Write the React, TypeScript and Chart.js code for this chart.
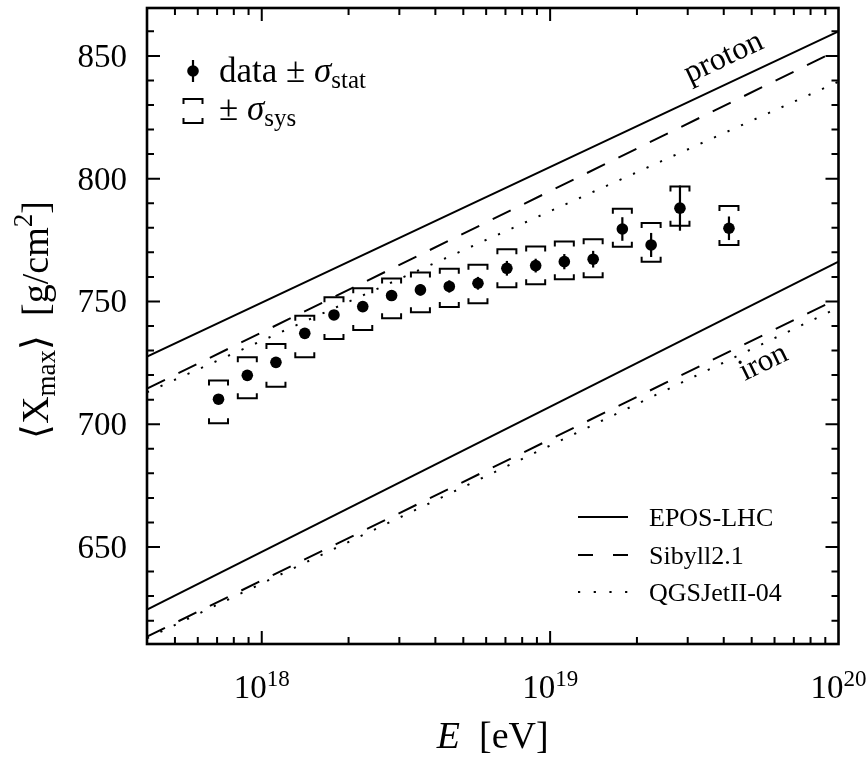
import React, { useEffect, useRef } from "react";
import { Chart, registerables } from "chart.js";

Chart.register(...registerables);

// ---- data ----
const energies = [7.08e17, 8.91e17, 1.12e18, 1.41e18, 1.78e18, 2.24e18, 2.82e18, 3.55e18, 4.47e18, 5.62e18, 7.08e18, 8.91e18, 1.12e19, 1.41e19, 1.78e19, 2.24e19, 2.82e19, 4.17e19];
const xmaxMean = [710.2, 719.9, 725.2, 737.0, 744.5, 747.9, 752.4, 754.7, 756.1, 757.4, 763.5, 764.6, 766.2, 767.2, 779.5, 773.0, 788.0, 779.8];
const statErr = [1.5, 1.6, 1.7, 1.9, 2.0, 2.1, 2.2, 2.3, 2.5, 2.6, 3.0, 2.8, 3.1, 3.4, 4.8, 4.9, 9.2, 4.8];
const sysUp = [7.6, 7.4, 7.5, 7.2, 7.2, 7.5, 6.9, 7.1, 7.2, 7.5, 7.8, 7.8, 8.2, 8.1, 8.2, 8.9, 8.8, 9.1];
const sysLow = [9.8, 9.3, 9.9, 9.7, 9.8, 9.5, 9.2, 9.1, 8.4, 8.1, 7.7, 7.6, 7.2, 7.3, 7.2, 6.8, 7.2, 6.8];

const modelEnergies = [4e17, 1e20];
const eposProton = [727.5, 860.0];
const sibyllProton = [714.5, 852.5];
const qgsProton = [713.0, 839.5];
const eposIron = [624.5, 766.2];
const sibyllIron = [613.5, 751.3];
const qgsIron = [612.8, 747.5];

const xMajorTicks = [1e18, 1e19, 1e20];
const xMajorExponents = ["18", "19", "20"];
const yMajorTicks = [650, 700, 750, 800, 850];
const yTickLabels = ["650", "700", "750", "800", "850"];

const modelNames = ["EPOS-LHC", "Sibyll2.1", "QGSJetII-04"];

const X_MIN = 4e17;
const X_MAX = 1e20;
const Y_MIN = 610.5;
const Y_MAX = 869.5;

const FONT = "'Liberation Serif', 'Times New Roman', serif";
const SOLID: number[] = [];
const DASH = [20, 15];
const DOT = [2.2, 12.6];

type Run = { t: string; size: number; dy?: number; italic?: boolean };

function setFont(ctx: CanvasRenderingContext2D, r: Run) {
  ctx.font = `${r.italic ? "italic " : ""}${r.size}px ${FONT}`;
}
function runsWidth(ctx: CanvasRenderingContext2D, runs: Run[]) {
  let w = 0;
  for (const r of runs) {
    setFont(ctx, r);
    w += ctx.measureText(r.t).width;
  }
  return w;
}
function drawRuns(ctx: CanvasRenderingContext2D, runs: Run[], x: number, y: number, align: "left" | "center" | "right") {
  const w = runsWidth(ctx, runs);
  let cx = align === "left" ? x : align === "center" ? x - w / 2 : x - w;
  ctx.textAlign = "left";
  ctx.textBaseline = "alphabetic";
  for (const r of runs) {
    setFont(ctx, r);
    ctx.fillText(r.t, cx, y + (r.dy || 0));
    cx += ctx.measureText(r.t).width;
  }
}

function bracket(ctx: CanvasRenderingContext2D, x: number, y: number, half: number, leg: number) {
  ctx.beginPath();
  ctx.moveTo(x - half, y + leg);
  ctx.lineTo(x - half, y);
  ctx.lineTo(x + half, y);
  ctx.lineTo(x + half, y + leg);
  ctx.stroke();
}

const overlay = {
  id: "overlay",
  afterDatasetsDraw(chart: any) {
    const ctx: CanvasRenderingContext2D = chart.ctx;
    const xs = chart.scales.x;
    const ys = chart.scales.y;
    ctx.save();
    ctx.strokeStyle = "#000";
    ctx.lineCap = "butt";
    // systematic brackets
    ctx.lineWidth = 2;
    energies.forEach((e, i) => {
      const px = xs.getPixelForValue(e);
      const top = ys.getPixelForValue(xmaxMean[i] + sysUp[i]);
      const bot = ys.getPixelForValue(xmaxMean[i] - sysLow[i]);
      bracket(ctx, px, top, 9.5, 5);
      bracket(ctx, px, bot, 9.5, -5);
    });
    // statistical error bars
    ctx.lineWidth = 2.2;
    energies.forEach((e, i) => {
      const px = xs.getPixelForValue(e);
      ctx.beginPath();
      ctx.moveTo(px, ys.getPixelForValue(xmaxMean[i] + statErr[i]));
      ctx.lineTo(px, ys.getPixelForValue(xmaxMean[i] - statErr[i]));
      ctx.stroke();
    });
    ctx.restore();
  },
  afterDraw(chart: any) {
    const ctx: CanvasRenderingContext2D = chart.ctx;
    const xs = chart.scales.x;
    const ys = chart.scales.y;
    const a = chart.chartArea;
    ctx.save();
    ctx.fillStyle = "#000";
    ctx.strokeStyle = "#000";

    // ticks (inward, all four sides)
    ctx.lineWidth = 2;
    const vtick = (px: number, len: number) => {
      ctx.beginPath();
      ctx.moveTo(px, a.bottom);
      ctx.lineTo(px, a.bottom - len);
      ctx.moveTo(px, a.top);
      ctx.lineTo(px, a.top + len);
      ctx.stroke();
    };
    const htick = (py: number, len: number) => {
      ctx.beginPath();
      ctx.moveTo(a.left, py);
      ctx.lineTo(a.left + len, py);
      ctx.moveTo(a.right, py);
      ctx.lineTo(a.right - len, py);
      ctx.stroke();
    };
    for (let d = 17; d <= 19; d++) {
      for (let m = 1; m <= 9; m++) {
        const v = m * Math.pow(10, d);
        if (v < X_MIN || v > X_MAX) continue;
        vtick(xs.getPixelForValue(v), m === 1 ? 13 : 7);
      }
    }
    for (let v = 620; v <= 860; v += 10) {
      htick(ys.getPixelForValue(v), v % 50 === 0 ? 13 : 7);
    }

    // frame
    ctx.lineWidth = 2.6;
    ctx.strokeRect(a.left, a.top, a.right - a.left, a.bottom - a.top);

    // y tick labels
    yMajorTicks.forEach((v, i) => {
      drawRuns(ctx, [{ t: yTickLabels[i], size: 33 }], 127, ys.getPixelForValue(v) + 11, "right");
    });
    // x tick labels
    xMajorTicks.forEach((v, i) => {
      drawRuns(ctx, [{ t: "10", size: 33 }, { t: xMajorExponents[i], size: 23, dy: -12 }], xs.getPixelForValue(v), 698, "center");
    });

    // axis titles
    drawRuns(ctx, [{ t: "E", size: 38, italic: true }, { t: "  [eV]", size: 38 }], (a.left + a.right) / 2, 748, "center");
    ctx.save();
    ctx.translate(48, (a.top + a.bottom) / 2 - 6);
    ctx.rotate(-Math.PI / 2);
    drawRuns(
      ctx,
      [
        { t: "\u27E8X", size: 38 },
        { t: "max", size: 27, dy: 7 },
        { t: "\u27E9  [g/cm", size: 38 },
        { t: "2", size: 27, dy: -16 },
        { t: "]", size: 38 },
      ],
      0,
      0,
      "center"
    );
    ctx.restore();

    // proton / iron labels, rotated along lines
    const angleOf = (vals: number[]) => {
      const x0 = xs.getPixelForValue(modelEnergies[0]);
      const x1 = xs.getPixelForValue(modelEnergies[1]);
      const y0 = ys.getPixelForValue(vals[0]);
      const y1 = ys.getPixelForValue(vals[1]);
      return Math.atan2(y1 - y0, x1 - x0);
    };
    const rotLabel = (txt: string, e: number, v: number, ang: number, size: number) => {
      ctx.save();
      ctx.translate(xs.getPixelForValue(e), ys.getPixelForValue(v));
      ctx.rotate(ang);
      ctx.font = `${size}px ${FONT}`;
      ctx.textAlign = "center";
      ctx.textBaseline = "middle";
      ctx.fillText(txt, 0, 0);
      ctx.restore();
    };
    rotLabel("proton", 4.0e19, 849.2, angleOf(eposProton), 32);
    rotLabel("iron", 5.5e19, 725, angleOf(sibyllIron), 31);

    // top-left legend
    ctx.lineWidth = 2.2;
    ctx.beginPath();
    ctx.moveTo(193, 60);
    ctx.lineTo(193, 82);
    ctx.stroke();
    ctx.beginPath();
    ctx.arc(193, 71, 5.8, 0, Math.PI * 2);
    ctx.fill();
    drawRuns(
      ctx,
      [
        { t: "data \u00B1 ", size: 35 },
        { t: "\u03C3", size: 35, italic: true },
        { t: "stat", size: 25, dy: 6 },
      ],
      219,
      82,
      "left"
    );
    ctx.lineWidth = 2;
    bracket(ctx, 193, 99, 9.5, 5);
    bracket(ctx, 193, 123, 9.5, -5);
    drawRuns(
      ctx,
      [
        { t: "\u00B1 ", size: 35 },
        { t: "\u03C3", size: 35, italic: true },
        { t: "sys", size: 25, dy: 6 },
      ],
      219,
      120,
      "left"
    );

    // bottom-right legend
    const rows = [517, 555, 592];
    const dashes = [SOLID, [15, 20], [2.2, 13.5]];
    rows.forEach((ry, i) => {
      ctx.save();
      ctx.lineWidth = 2;
      ctx.setLineDash(dashes[i]);
      ctx.beginPath();
      ctx.moveTo(578, ry);
      ctx.lineTo(628, ry);
      ctx.stroke();
      ctx.restore();
      drawRuns(ctx, [{ t: modelNames[i], size: 26 }], 649, ry + 8.5, "left");
    });

    ctx.restore();
  },
};

function line(label: string, vals: number[], dash: number[]) {
  return {
    type: "line" as const,
    label,
    data: modelEnergies.map((e, i) => ({ x: e, y: vals[i] })),
    borderColor: "#000",
    borderWidth: 2,
    borderDash: dash,
    pointRadius: 0,
    showLine: true,
    fill: false,
    tension: 0,
  };
}

export default function App() {
  const ref = useRef<HTMLCanvasElement | null>(null);
  useEffect(() => {
    document.body.style.margin = "0";
    document.body.style.overflow = "hidden";
    const canvas = ref.current!;
    const chart = new Chart(canvas, {
      type: "scatter",
      data: {
        datasets: [
          line("EPOS-LHC p", eposProton, SOLID),
          line("Sibyll2.1 p", sibyllProton, DASH),
          line("QGSJetII-04 p", qgsProton, DOT),
          line("EPOS-LHC Fe", eposIron, SOLID),
          line("Sibyll2.1 Fe", sibyllIron, DASH),
          line("QGSJetII-04 Fe", qgsIron, DOT),
          {
            type: "scatter" as const,
            label: "data",
            data: energies.map((e, i) => ({ x: e, y: xmaxMean[i] })),
            backgroundColor: "#000",
            borderColor: "#000",
            pointRadius: 5.8,
            pointBorderWidth: 0,
          },
        ] as any,
      },
      options: {
        responsive: false,
        animation: false,
        devicePixelRatio: 1,
        layout: { padding: { top: 8, right: 29.5, bottom: 0, left: 0 } },
        plugins: { legend: { display: false }, tooltip: { enabled: false } },
        scales: {
          x: {
            type: "logarithmic",
            min: X_MIN,
            max: X_MAX,
            grid: { display: false },
            border: { display: false },
            ticks: { display: false },
            afterFit: (s: any) => {
              s.height = 115;
            },
          },
          y: {
            type: "linear",
            min: Y_MIN,
            max: Y_MAX,
            grid: { display: false },
            border: { display: false },
            ticks: { display: false },
            afterFit: (s: any) => {
              s.width = 147;
            },
          },
        },
      } as any,
      plugins: [overlay],
    });
    return () => chart.destroy();
  }, []);
  return (
    <div style={{ width: 868, height: 759 }}>
      <canvas ref={ref} width={868} height={759} style={{ display: "block", width: 868, height: 759 }} />
    </div>
  );
}
